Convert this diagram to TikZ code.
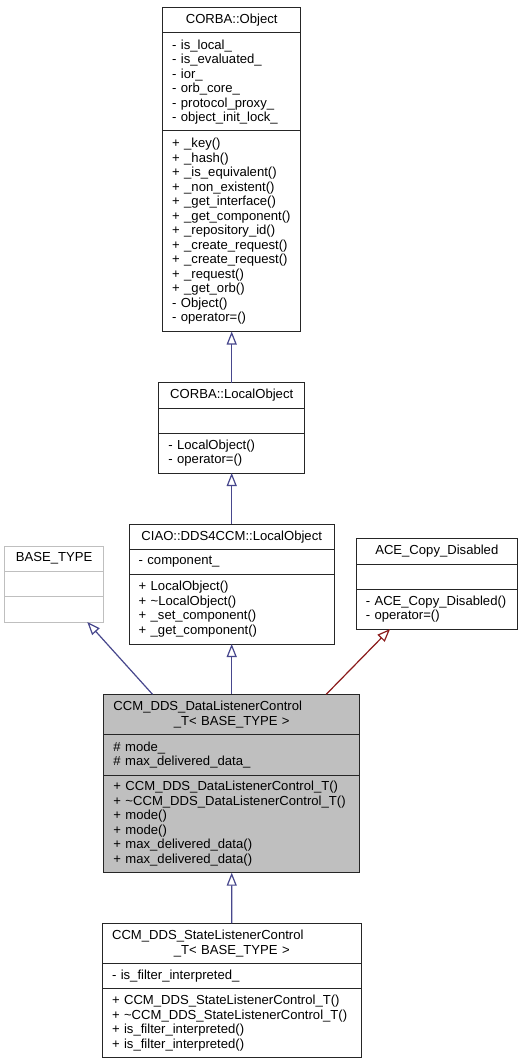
\documentclass[tikz,border=0pt]{standalone}
\usepackage{fontspec}
\setmainfont{Liberation Sans}
\usetikzlibrary{positioning, arrows.meta, calc}

\definecolor{midnightblue}{HTML}{191970}
\definecolor{firebrick}{HTML}{8B1A1A}
\definecolor{boxgray}{HTML}{BFBFBF}

\begin{document}
\begin{tikzpicture}[
    x=1pt, y=-1pt,
    node distance=0pt,
    every node/.style={font=\fontsize{13.1}{14.5}\selectfont, outer sep=0pt},
    title/.style={draw=black!85, line width=1pt, inner xsep=9.5pt, inner ysep=0pt, align=center, anchor=north},
    members/.style={draw=black!85, line width=1pt, inner xsep=9.5pt, inner ysep=0pt, align=left},
    undoc/.style={draw=boxgray},
    current/.style={fill=boxgray},
    inherit/.style={-{Triangle[open, length=13pt, width=10pt]}, line width=1.2pt, draw=midnightblue!80!white}
]

% Background and frame
\fill[white] (0,0) rectangle (528,1064);

% CORBA::Object
\node[title, text width=119pt, minimum height=25.5pt] (obj) at (231.7, 7.5) {CORBA::Object};
\node[members, text width=119pt, minimum height=98pt, below=of obj] (obj_a) {-~is\_local\_\\-~is\_evaluated\_\\-~ior\_\\-~orb\_core\_\\-~protocol\_proxy\_\\-~object\_init\_lock\_};
\node[members, text width=119pt, minimum height=200.5pt, below=of obj_a] (obj_m) {+~\_key()\\+~\_hash()\\+~\_is\_equivalent()\\+~\_non\_existent()\\+~\_get\_interface()\\+~\_get\_component()\\+~\_repository\_id()\\+~\_create\_request()\\+~\_create\_request()\\+~\_request()\\+~\_get\_orb()\\-~Object()\\-~operator=()};

% CORBA::LocalObject
\node[title, text width=126.5pt, minimum height=25.3pt] (lobj) at (231.7, 382.7) {CORBA::LocalObject};
\node[members, text width=126.5pt, minimum height=25.3pt, below=of lobj] (lobj_a) {};
\node[members, text width=126.5pt, minimum height=39.7pt, below=of lobj_a] (lobj_m) {-~LocalObject()\\-~operator=()};

% CIAO::DDS4CCM::LocalObject
\node[title, text width=186pt, minimum height=25.3pt] (ciao) at (231.7, 524) {CIAO::DDS4CCM::LocalObject};
\node[members, text width=186pt, minimum height=25.4pt, below=of ciao] (ciao_a) {-~component\_};
\node[members, text width=186pt, minimum height=69.3pt, below=of ciao_a] (ciao_m) {+~LocalObject()\\+~\textasciitilde LocalObject()\\+~\_set\_component()\\+~\_get\_component()};

% BASE_TYPE
\node[title, undoc, text width=80pt, minimum height=25.3pt] (base) at (54.2, 546) {BASE\_TYPE};
\node[members, undoc, text width=80pt, minimum height=25.4pt, below=of base] (base_a) {};
\node[members, undoc, text width=80pt, minimum height=25.3pt, below=of base_a] (base_m) {};

% ACE_Copy_Disabled
\node[title, text width=142pt, minimum height=25.3pt] (ace) at (436.8, 538.7) {ACE\_Copy\_Disabled};
\node[members, text width=142pt, minimum height=25.3pt, below=of ace] (ace_a) {};
\node[members, text width=142pt, minimum height=39.7pt, below=of ace_a] (ace_m) {-~ACE\_Copy\_Disabled()\\-~operator=()};

% CCM_DDS_DataListenerControl_T
\node[title, current, text width=236.5pt, minimum height=40.4pt] (dlc) at (231.7, 694.3) {\makebox[\hsize][l]{CCM\_DDS\_DataListenerControl}\\\_T< BASE\_TYPE >};
\node[members, current, text width=236.5pt, minimum height=40.3pt, below=of dlc] (dlc_a) {\#~mode\_\\\#~max\_delivered\_data\_};
\node[members, current, text width=236.5pt, minimum height=97.7pt, below=of dlc_a] (dlc_m) {+~CCM\_DDS\_DataListenerControl\_T()\\+~\textasciitilde CCM\_DDS\_DataListenerControl\_T()\\+~mode()\\+~mode()\\+~max\_delivered\_data()\\+~max\_delivered\_data()};

% CCM_DDS_StateListenerControl_T
\node[title, text width=239.5pt, minimum height=40pt] (slc) at (231.8, 923.3) {\makebox[\hsize][l]{CCM\_DDS\_StateListenerControl}\\\_T< BASE\_TYPE >};
\node[members, text width=239.5pt, minimum height=25.4pt, below=of slc] (slc_a) {-~is\_filter\_interpreted\_};
\node[members, text width=239.5pt, minimum height=69pt, below=of slc_a] (slc_m) {+~CCM\_DDS\_StateListenerControl\_T()\\+~\textasciitilde CCM\_DDS\_StateListenerControl\_T()\\+~is\_filter\_interpreted()\\+~is\_filter\_interpreted()};

% Inheritance arrows
\draw[inherit] (lobj.north) -- (obj_m.south);
\draw[inherit] (ciao.north) -- (lobj_m.south);
\draw[inherit] (dlc.north) -- (ciao_m.south);
\draw[inherit] ($(dlc.north west)!0.19!(dlc.north east)$) -- ($(base_m.south west)!0.834!(base_m.south east)$);
\draw[inherit, draw=firebrick] ($(dlc.north west)!0.87!(dlc.north east)$) -- ($(ace_m.south west)!0.21!(ace_m.south east)$);
\draw[inherit] (slc.north) -- (dlc_m.south);

\end{tikzpicture}
\end{document}
